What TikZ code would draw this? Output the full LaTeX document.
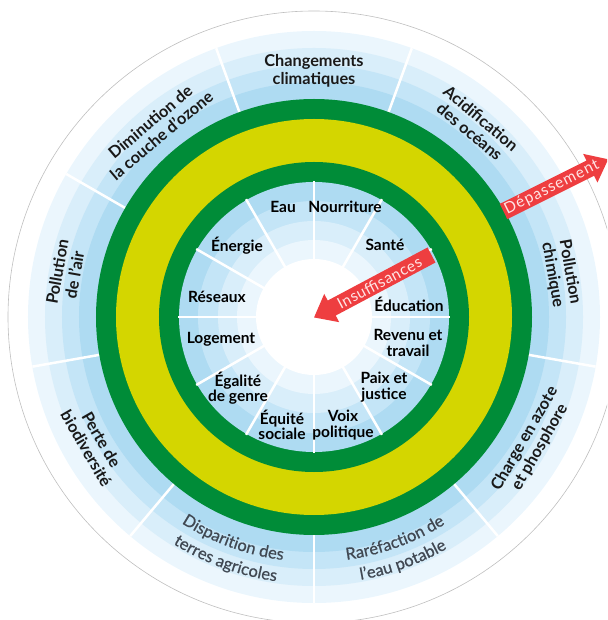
\documentclass[tikz,border=0pt]{standalone}
\usepackage{fontspec}
\setmainfont{Lato}
\usetikzlibrary{decorations.text}
\definecolor{bA}{RGB}{174,219,242}
\definecolor{bB}{RGB}{196,229,247}
\definecolor{bC}{RGB}{217,238,250}
\definecolor{bD}{RGB}{235,246,253}
\definecolor{grn}{RGB}{0,140,56}
\definecolor{ylw}{RGB}{212,214,0}
\definecolor{arred}{RGB}{238,62,64}
\definecolor{txtgray}{RGB}{64,72,82}
\newcommand\grayfnt{\fontsize{16.5}{16.5}\selectfont\addfontfeature{FakeBold=0.6}}
\tikzset{
  inlab/.style={font=\bfseries\fontsize{15.5}{15.5}\selectfont, align=center, inner sep=0pt, text=black},
  outlab/.style={font=\bfseries\fontsize{16.3}{17.5}\selectfont, align=center, inner sep=0pt, text=black!90},
  arctext/.style={decorate, decoration={text along path, text align=center, text color=txtgray, text={|\grayfnt|#1}}},
  arrlab/.style={font=\fontsize{15.5}{15.5}\selectfont, text=white!90!red, inner sep=0pt},
  divider/.style={white, line width=2.5pt},
}
\begin{document}
\begin{tikzpicture}[x=1pt,y=1pt]
\useasboundingbox (-314,-303) rectangle (293,317);
\clip (-314,-303) rectangle (293,317);
% outer faint circle
\draw[black!25, line width=0.6pt] (0,0) circle (306);
% outer boundary bands
\fill[bD] (0,0) circle (286);
\fill[bC] (0,0) circle (269);
\fill[bB] (0,0) circle (252);
\fill[bA] (0,0) circle (235);
\foreach \a in {30,70,...,350} \draw[divider] (\a:217) -- (\a:286);
% rings
\fill[grn] (0,0) circle (218);
\fill[ylw] (0,0) circle (198);
\fill[grn] (0,0) circle (155);
% inner social bands
\fill[bA] (0,0) circle (135);
\fill[bB] (0,0) circle (116);
\fill[bC] (0,0) circle (96);
\fill[bD] (0,0) circle (77);
\fill[white] (0,0) circle (58);
\foreach \a in {0,30,...,330} \draw[divider] (\a:57) -- (\a:136);
% inner labels
\node[inlab] (eau) at (-31,110) {Eau};
\node[inlab] (nour) at (31,110) {Nourriture};
\node[inlab] (sante) at (71,72) {Santé};
\node[inlab] (educ) at (95,13) {Éducation};
\node[inlab] (rev) at (94,-26) {Revenu et\\travail};
\node[inlab] (paix) at (70,-70) {Paix et\\justice};
\node[inlab] (voix) at (29,-108) {Voix\\politique};
\node[inlab] (equi) at (-32,-108) {Équité\\sociale};
\node[inlab] (egal) at (-76,-71) {Égalité\\de genre};
\node[inlab] (loge) at (-93,-22) {Logement};
\node[inlab] (res) at (-97,20) {Réseaux};
\node[inlab] (ener) at (-77,71) {Énergie};
% outer labels
\node[outlab] (clim) at (90:246) {Changements\\climatiques};
\node[outlab, rotate=-40] (acid) at (50:251) {Acidification\\des océans};
\node[outlab, rotate=-80] (chim) at (10:251) {Pollution\\chimique};
\node[outlab, rotate=60] (azote) at (-30:252) {Charge en azote\\et phosphore};
\node[outlab, rotate=-60] (biod) at (210:254) {Perte de\\biodiversité};
\node[outlab, rotate=80] (air) at (170:252) {Pollution\\de l'air};
\node[outlab, rotate=40] (ozone) at (130:246) {Diminution de\\la couche d'ozone};
% curved grey labels
\path[arctext={Disparition des}] (-140:245) arc[start angle=-140, end angle=-80, radius=245];
\path[arctext={terres agricoles}] (-140:267) arc[start angle=-140, end angle=-80, radius=267];
\path[arctext={Raréfaction de}] (-100:245) arc[start angle=-100, end angle=-40, radius=245];
\path[arctext={l'eau potable}] (-100:267) arc[start angle=-100, end angle=-40, radius=267];
% Depassement arrow
\begin{scope}[shift={(189.5,105.5)}, rotate=26.5]
  \coordinate (dtail) at (0,0);
  \coordinate (dtip) at (117,0);
  \fill[arred] (0,-8.5) -- (97,-8.5) -- (97,-16) -- (dtip) -- (97,16) -- (97,8.5) -- (0,8.5) -- cycle;
  \node[arrlab, rotate=26.5] (dep) at (54,0) {\addfontfeature{LetterSpace=7}Dépassement};
\end{scope}
% Insuffisances arrow
\begin{scope}[shift={(117.5,62)}, rotate=208]
  \coordinate (itail) at (0,0);
  \coordinate (itip) at (133,0);
  \fill[arred] (0,-8.5) -- (113,-8.5) -- (113,-16) -- (itip) -- (113,16) -- (113,8.5) -- (0,8.5) -- cycle;
  \node[arrlab, rotate=28] (insuf) at (59,0) {\addfontfeature{LetterSpace=4}Insuffisances};
\end{scope}
\end{tikzpicture}
\end{document}
